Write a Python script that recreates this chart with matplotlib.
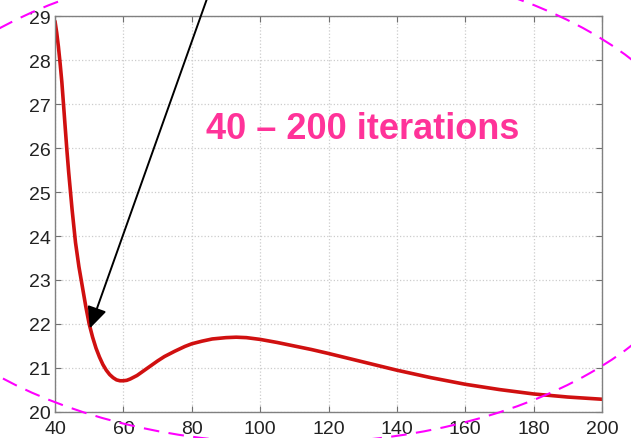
import matplotlib
matplotlib.use("Agg")
import matplotlib.pyplot as plt
from matplotlib.patches import Ellipse

# objective value against iteration count
iterations = [40, 40.5, 41, 41.5, 42, 42.5, 43, 43.5, 44, 45, 46, 47, 48, 49,
              50, 51, 52, 53, 54, 55, 56, 57, 58, 59, 60, 61, 62, 64, 66, 68,
              70, 72, 75, 78, 80, 83, 86, 90, 93, 96, 100, 105, 110, 115, 120,
              130, 140, 150, 160, 170, 180, 190, 200]
cost = [28.88, 28.62, 28.3, 27.92, 27.5, 26.98, 26.45, 25.93, 25.45, 24.6,
        23.85, 23.3, 22.85, 22.4, 22.0, 21.7, 21.45, 21.25, 21.08, 20.95,
        20.85, 20.78, 20.73, 20.71, 20.71, 20.72, 20.75, 20.83, 20.94, 21.05,
        21.16, 21.26, 21.38, 21.49, 21.55, 21.61, 21.66, 21.69, 21.70, 21.69,
        21.65, 21.58, 21.50, 21.42, 21.33, 21.14, 20.95, 20.78, 20.63, 20.51,
        20.41, 20.34, 20.29]
xticks = [40, 60, 80, 100, 120, 140, 160, 180, 200]
yticks = [20, 21, 22, 23, 24, 25, 26, 27, 28, 29]

plt.rcParams['font.family'] = ['Liberation Sans', 'DejaVu Sans']

fig = plt.figure(figsize=(6.31, 4.39), dpi=100)
ax = fig.add_axes([55 / 631, 26 / 439, 547 / 631, 396 / 439])

ax.plot(iterations, cost, color='#d01010', lw=2.6, solid_capstyle='round',
        solid_joinstyle='round')

ax.set_xlim(40, 200)
ax.set_ylim(20, 29)
ax.set_xticks(xticks)
ax.set_yticks(yticks)
ax.grid(True, color='#cccccc', linestyle=':', lw=0.9)
ax.tick_params(direction='in', length=4, top=True, right=True,
               labelsize=14, labelcolor='#222222', color='#707070')
ax.tick_params(axis='x', pad=6)
ax.tick_params(axis='y', pad=3)
for s in ax.spines.values():
    s.set_color('#808080')
    s.set_linewidth(1.0)

ax.text(130, 26.45, '40 \u2013 200 iterations', color='#ff3399',
        fontsize=26, fontweight='bold', ha='center', va='center')

# arrow coming in from above the plot
ax.annotate('', xy=(50.2, 21.9), xycoords='data',
            xytext=(214 / 631, 1 + 20 / 439), textcoords='figure fraction',
            arrowprops=dict(arrowstyle='-|>,head_length=0.65,head_width=0.3',
                            color='black', lw=1.4, mutation_scale=20,
                            shrinkA=0, shrinkB=0),
            annotation_clip=False)

# dashed ring around the plot
ring = Ellipse((291.5 / 631, 1 - 203.5 / 439), 845 / 631, 482 / 439,
               transform=fig.transFigure, fill=False, edgecolor='#ff00ff',
               lw=1.5, linestyle=(0, (7.5, 4.5)), clip_on=False)
fig.add_artist(ring)

fig.savefig('out.png', dpi=100)
